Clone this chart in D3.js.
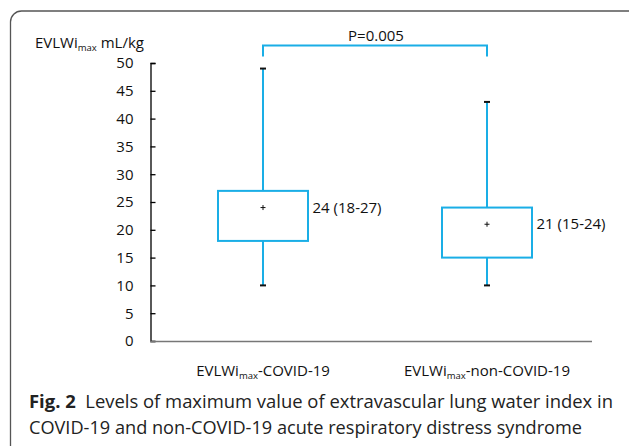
<!DOCTYPE html>
<html><head><meta charset="utf-8">
<script src="https://cdn.jsdelivr.net/npm/d3@7"></script>
<style>
html,body{margin:0;padding:0;background:#fff;}
svg{display:block;font-family:"Open Sans",sans-serif;}
</style></head><body>
<svg id="c" width="629" height="446"></svg>
<script>
const groups = ["COVID-19", "non-COVID-19"];
const whiskerLow = [10, 10];
const q1 = [18, 15];
const median = [24, 21];
const q3 = [27, 24];
const whiskerHigh = [49, 43];
const means = [24, 21];
const boxLabels = ["24 (18-27)", "21 (15-24)"];
const yTicks = [0, 5, 10, 15, 20, 25, 30, 35, 40, 45, 50];
const pValue = "P=0.005";
const captionBold = "Fig. 2";
const captionLine1 = "Levels of maximum value of extravascular lung water index in";
const captionLine2 = "COVID-19 and non-COVID-19 acute respiratory distress syndrome";

const blue = "#1aaee6";
const FONT = "'Open Sans',sans-serif";
const FS = 15;
const SUB = 9.5;
const svg = d3.select("#c");

// frame
svg.append("rect").attr("x", 10.5).attr("y", 11).attr("width", 640).attr("height", 500)
  .attr("rx", 11).attr("fill", "none").attr("stroke", "#555").attr("stroke-width", 1.3);

const y = d3.scaleLinear().domain([0, 50]).range([341, 63]);
const x = d3.scalePoint().domain(groups).range([263, 487]);
const boxW = 90;

// y axis
const yAxis = svg.append("g").attr("transform", "translate(150.5,0)")
  .call(d3.axisLeft(y).tickValues(yTicks).tickSize(-5).tickPadding(17));
yAxis.selectAll("path,line").attr("stroke", "#000").attr("stroke-width", 1.3);
yAxis.attr("font-size", FS).attr("font-family", FONT);
yAxis.selectAll("text").attr("fill", "#111");

// x axis line
svg.append("line").attr("x1", 150).attr("x2", 592).attr("y1", y(0)+0.5).attr("y2", y(0)+0.5)
  .attr("stroke", "#777").attr("stroke-width", 1.3);

// y title
const yt = svg.append("text").attr("x", 35).attr("y", 48).attr("font-size", FS).attr("fill", "#111");
yt.append("tspan").text("EVLWi");
yt.append("tspan").attr("font-size", SUB).attr("dy", 3).text("max");
yt.append("tspan").attr("dy", -3).text(" mL/kg");

// boxes
groups.forEach((g, i) => {
  const cx = x(g);
  svg.append("line").attr("x1", cx).attr("x2", cx).attr("y1", y(whiskerHigh[i])).attr("y2", y(q3[i]))
    .attr("stroke", blue).attr("stroke-width", 2);
  svg.append("line").attr("x1", cx).attr("x2", cx).attr("y1", y(q1[i])).attr("y2", y(whiskerLow[i]))
    .attr("stroke", blue).attr("stroke-width", 2);
  svg.append("rect").attr("x", cx - boxW/2).attr("y", y(q3[i])).attr("width", boxW)
    .attr("height", y(q1[i]) - y(q3[i])).attr("fill", "#fff").attr("stroke", blue).attr("stroke-width", 2);
  [whiskerHigh[i], whiskerLow[i]].forEach(v => {
    svg.append("line").attr("x1", cx - 3).attr("x2", cx + 3).attr("y1", y(v)).attr("y2", y(v))
      .attr("stroke", "#111").attr("stroke-width", 2);
  });
  const my = y(means[i]);
  svg.append("line").attr("x1", cx - 2.5).attr("x2", cx + 2.5).attr("y1", my).attr("y2", my).attr("stroke", "#111").attr("stroke-width", 1);
  svg.append("line").attr("x1", cx).attr("x2", cx).attr("y1", my - 2.5).attr("y2", my + 2.5).attr("stroke", "#111").attr("stroke-width", 1);
  svg.append("text").attr("x", cx + boxW/2 + 4.5).attr("y", y(median[i])).attr("dy", "0.35em")
    .attr("font-size", FS).attr("fill", "#111").text(boxLabels[i]);
  const xl = svg.append("text").attr("x", cx).attr("y", 376).attr("text-anchor", "middle")
    .attr("font-size", FS).attr("fill", "#111");
  xl.append("tspan").text("EVLWi");
  xl.append("tspan").attr("font-size", SUB).attr("dy", 3).text("max");
  xl.append("tspan").attr("dy", -3).text("-" + g);
});

// significance bracket
const bx1 = x(groups[0]), bx2 = x(groups[1]);
svg.append("path").attr("d", `M${bx1},56.5V45.5H${bx2}V56.5`).attr("fill", "none")
  .attr("stroke", blue).attr("stroke-width", 2);
svg.append("text").attr("x", (bx1 + bx2)/2 + 1).attr("y", 41).attr("text-anchor", "middle")
  .attr("font-size", FS).attr("fill", "#111").text(pValue);

// caption
const c1 = svg.append("text").attr("x", 29).attr("y", 408).attr("font-size", 18.5).attr("fill", "#222")
  .attr("font-family", FONT).attr("textLength", 584).attr("lengthAdjust", "spacingAndGlyphs");
c1.append("tspan").attr("font-weight", "bold").text(captionBold);
c1.append("tspan").text("\u00a0 " + captionLine1);
svg.append("text").attr("x", 29).attr("y", 434).attr("font-size", 18.5).attr("fill", "#222")
  .attr("font-family", FONT).attr("textLength", 553).attr("lengthAdjust", "spacingAndGlyphs")
  .text(captionLine2);
</script>
</body></html>
